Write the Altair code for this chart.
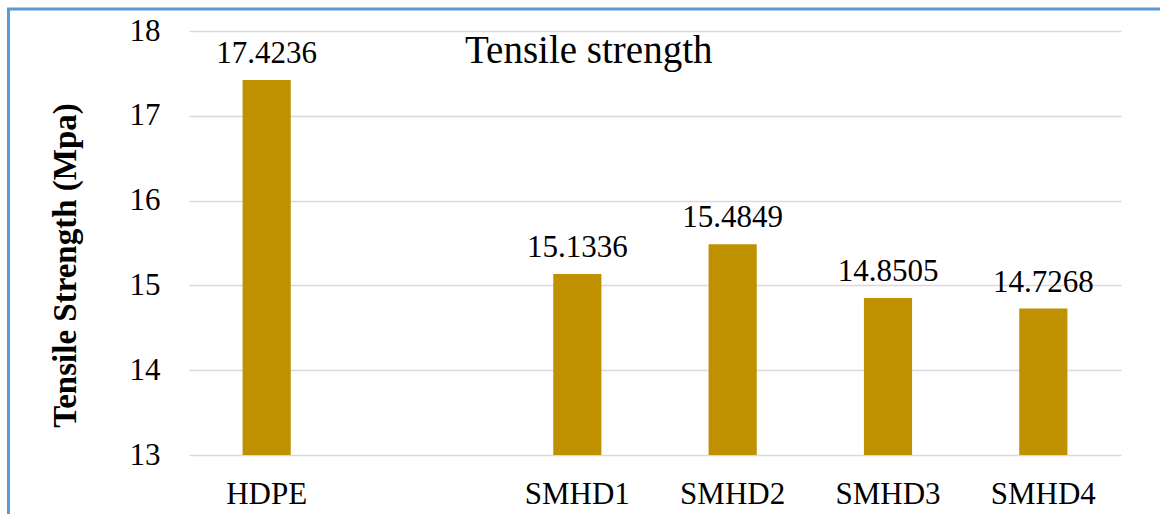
import altair as alt
import pandas as pd

categories = ["HDPE", "SMHD1", "SMHD2", "SMHD3", "SMHD4"]
axis_order = ["HDPE", " ", "SMHD1", "SMHD2", "SMHD3", "SMHD4"]
values = [17.4236, 15.1336, 15.4849, 14.8505, 14.7268]
y_ticks = [13, 14, 15, 16, 17, 18]

df = pd.DataFrame({"cat": categories, "val": values})

FONT = "Liberation Serif"
W, H = 932, 424
LEFT, TOP = 189, 31
FS = 31

x_enc = alt.X("cat:N", sort=axis_order,
              scale=alt.Scale(domain=axis_order, paddingInner=0.69, paddingOuter=0.345),
              axis=alt.Axis(title=None, labelAngle=0, domain=False, ticks=False,
                            labelPadding=24, labelFontSize=FS, labelFont=FONT,
                            labelColor="black"))
y_enc = alt.Y("val:Q", scale=alt.Scale(domain=[13, 18], nice=False, zero=False),
              axis=alt.Axis(title="Tensile Strength (Mpa)", values=y_ticks, format="d",
                            domain=False, ticks=False, labelPadding=29,
                            labelFontSize=FS, labelFont=FONT, labelColor="black",
                            grid=True, gridColor="#d9d9d9", gridWidth=1.5,
                            titleFont=FONT, titleFontSize=33, titleFontWeight="bold",
                            titleColor="black", titleAngle=270,
                            titleBaseline="alphabetic", titleAlign="center",
                            titleX=75 - LEFT, titleY=234))

base = alt.Chart(df)
bars = base.mark_bar(color="#BF9000", clip=True).encode(x=x_enc, y=y_enc)
labels = base.mark_text(font=FONT, fontSize=FS, dy=-17, baseline="alphabetic",
                        color="black").encode(
    x=alt.X("cat:N", sort=axis_order), y="val:Q",
    text=alt.Text("val:Q", format=".4f"))

title = alt.Chart(pd.DataFrame({"t": ["Tensile strength"]})).mark_text(
    font=FONT, fontSize=39, align="left", baseline="alphabetic", color="black"
).encode(x=alt.value(465 - LEFT), y=alt.value(63 - TOP), text="t:N")

border = alt.Chart(pd.DataFrame({"b": [1]})).mark_rect(
    fill=None, stroke="#5B9BD5", strokeWidth=3
).encode(x=alt.value(8.5 - LEFT), x2=alt.value(1200 - LEFT),
         y=alt.value(9 - TOP), y2=alt.value(600 - TOP))

chart = alt.layer(bars, labels, title, border).properties(
    width=W, height=H,
    autosize=alt.AutoSizeParams(type="none"),
    padding={"left": LEFT, "top": TOP, "right": 1160 - LEFT - W, "bottom": 514 - TOP - H},
    background="white",
).configure_view(stroke=None)

chart.save("out.html", embed_options={"renderer": "svg", "actions": False})
